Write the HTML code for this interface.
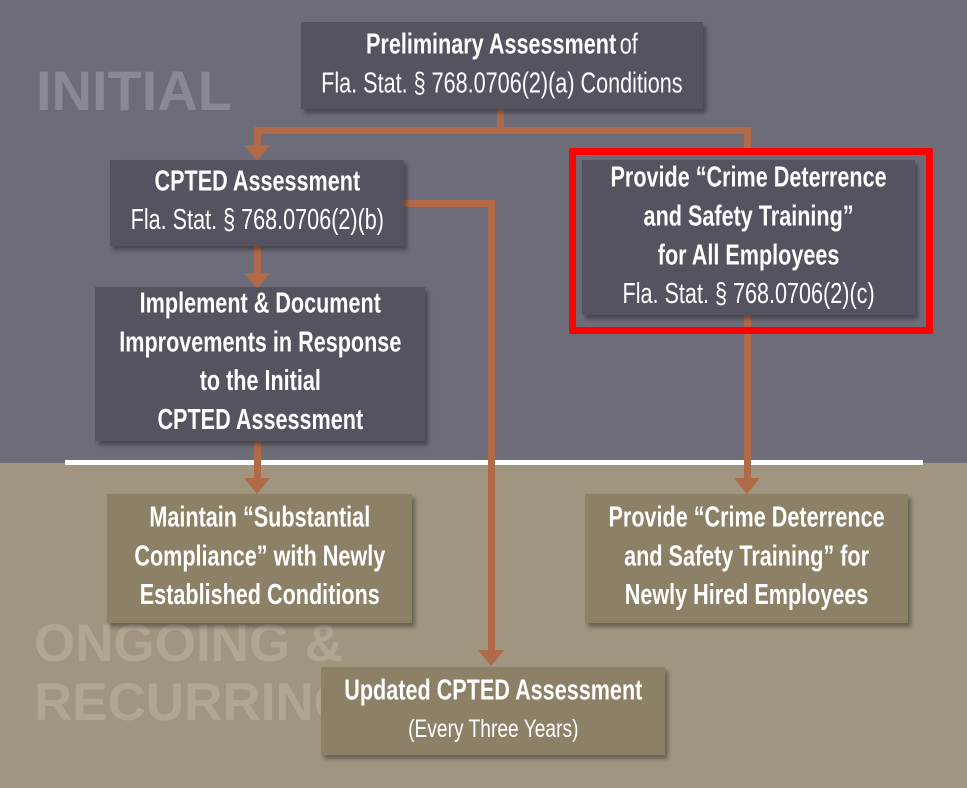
<!DOCTYPE html>
<html><head><style>
body{margin:0;width:967px;height:788px;position:relative;overflow:hidden;font-family:"Liberation Sans",sans-serif;}
.top{position:absolute;left:0;top:0;width:967px;height:463px;background:#6e6c78;}
.bot{position:absolute;left:0;top:463px;width:967px;height:325px;background:#a0957e;}
.div{position:absolute;left:65px;top:460px;width:858px;height:5px;background:#fff;}
.bg{position:absolute;font-weight:bold;white-space:nowrap;}
.box{position:absolute;display:flex;align-items:center;justify-content:center;text-align:center;color:#fff;box-shadow:3px 4px 4px rgba(0,0,0,.35);}
.d{background:#55535f;}
.t{background:#8c8066;}
.box > span{display:inline-block;transform:scale(.8,1.05);white-space:nowrap;line-height:33px;}
b{font-size:27px;}
.r{font-size:27px;}
.c{position:absolute;background:#b06a48;}
.a{position:absolute;width:0;height:0;border-left:13px solid transparent;border-right:13px solid transparent;border-top:16px solid #b06a48;}
</style></head><body>
<div class="top"></div><div class="bot"></div><div class="div"></div>
<div class="bg" style="left:36px;top:58px;font-size:56px;color:#8a8893;">INITIAL</div>
<div class="bg" style="left:34px;top:614px;font-size:53px;line-height:59px;color:#b0a792;">ONGOING &amp;<br>RECURRING</div>

<div class="c" style="left:497px;top:108px;width:7px;height:25px"></div>
<div class="c" style="left:254px;top:127px;width:497px;height:7px"></div>
<div class="c" style="left:254px;top:127px;width:7px;height:20px"></div>
<div class="a" style="left:244px;top:145px"></div>
<div class="c" style="left:744px;top:127px;width:7px;height:25px"></div>
<div class="c" style="left:254px;top:245px;width:7px;height:30px"></div>
<div class="a" style="left:244px;top:273px"></div>
<div class="c" style="left:400px;top:200px;width:95px;height:7px"></div>
<div class="c" style="left:488px;top:200px;width:7px;height:452px"></div>
<div class="a" style="left:478px;top:650px"></div>
<div class="c" style="left:254px;top:440px;width:7px;height:40px"></div>
<div class="a" style="left:244px;top:478px"></div>
<div class="c" style="left:744px;top:315px;width:7px;height:165px"></div>
<div class="a" style="left:734px;top:478px"></div>

<div class="box d" style="left:301px;top:22px;width:402px;height:87px"><span><b>Preliminary Assessment</b> <span class="r">of</span><br><span class="r">Fla. Stat. § 768.0706(2)(a) Conditions</span></span></div>
<div class="box d" style="left:110px;top:160px;width:294px;height:86px"><span><b>CPTED Assessment</b><br><span class="r">Fla. Stat. § 768.0706(2)(b)</span></span></div>
<div class="box d" style="left:95px;top:287px;width:330px;height:154px"><span><b>Implement &amp; Document<br>Improvements in Response<br>to the Initial<br>CPTED Assessment</b></span></div>
<div style="position:absolute;left:569px;top:148px;width:350px;height:172px;border:7px solid #f00;border-radius:2px;"></div>
<div class="box d" style="left:582px;top:160px;width:333px;height:155px"><span><b>Provide “Crime Deterrence<br>and Safety Training”<br>for All Employees</b><br><span class="r">Fla. Stat. § 768.0706(2)(c)</span></span></div>
<div class="box t" style="left:107px;top:494px;width:305px;height:129px"><span><b>Maintain “Substantial<br>Compliance” with Newly<br>Established Conditions</b></span></div>
<div class="box t" style="left:585px;top:494px;width:323px;height:129px"><span><b>Provide “Crime Deterrence<br>and Safety Training” for<br>Newly Hired Employees</b></span></div>
<div class="box t" style="left:321px;top:667px;width:344px;height:88px"><span><b>Updated CPTED Assessment</b><br><span class="r" style="font-size:24px">(Every Three Years)</span></span></div>
</body></html>
